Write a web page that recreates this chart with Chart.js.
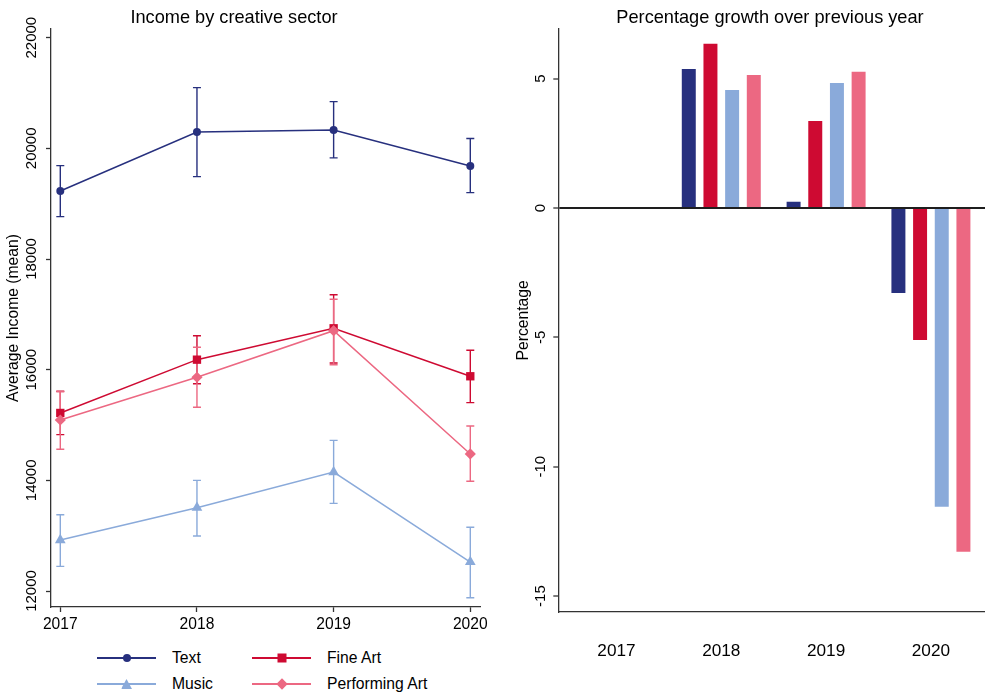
<!DOCTYPE html>
<html>
<head>
<meta charset="utf-8">
<script src="https://cdn.jsdelivr.net/npm/chart.js@4.4.1/dist/chart.umd.min.js"></script>
<style>
  body { margin: 0; background: #fff; font-family: "Liberation Sans", Arial, Helvetica, sans-serif; color: #000; }
  .stage { position: relative; width: 985px; height: 694px; overflow: hidden; }
  canvas { position: absolute; top: 0; }
  #incomeChart { left: 0; }
  #growthChart { left: 495px; }
  .panel-title { position: absolute; top: 6px; width: 400px; text-align: center; font-size: 18.2px; line-height: 22px; white-space: nowrap; }
  #legend { position: absolute; left: 97px; top: 645px; display: grid; grid-template-columns: 155px 155px; grid-auto-rows: 26px; font-size: 15.7px; }
  .legend-item { display: flex; align-items: center; white-space: nowrap; }
  .swatch { position: relative; width: 59px; height: 14px; margin-right: 16px; flex: none; }
  .swatch::before { content: ""; position: absolute; left: 0; right: 0; top: 6.25px; height: 1.5px; background: var(--c); }
  .marker { position: absolute; left: 50%; top: 50%; background: var(--c); transform: translate(-50%, -50%); }
  .marker.circle { width: 8px; height: 8px; border-radius: 50%; }
  .marker.rect { width: 9px; height: 9px; }
  .marker.triangle { width: 11px; height: 10px; clip-path: polygon(50% 0, 100% 100%, 0 100%); }
  .marker.rectRot { width: 8px; height: 8px; transform: translate(-50%, -50%) rotate(45deg); }
</style>
</head>
<body>
<div class="stage">
  <canvas id="incomeChart" width="495" height="640"></canvas>
  <canvas id="growthChart" width="490" height="694"></canvas>
  <div class="panel-title" style="left: 34px;">Income by creative sector</div>
  <div class="panel-title" style="left: 570px;">Percentage growth over previous year</div>
  <div id="legend"></div>
</div>

<script>
// Data
const years = [2017, 2018, 2019, 2020];
const sectors = ["Text", "Fine Art", "Music", "Performing Art"];
const sectorColors = ["#27307e", "#ce0a32", "#8aaada", "#ec6882"];
const sectorMarkers = ["circle", "rect", "triangle", "rectRot"];
const markerSizes = [4, 5.9, 6.2, 5.6];

const textMean = [19230, 20296, 20333, 19682];
const textLow = [18766, 19489, 19827, 19200];
const textHigh = [19687, 21097, 20844, 20177];

const fineArtMean = [15218, 16181, 16748, 15881];
const fineArtLow = [14826, 15747, 16120, 15404];
const fineArtHigh = [15610, 16614, 17355, 16350];

const musicMean = [12921, 13505, 14150, 12524];
const musicLow = [12446, 12994, 13584, 11879];
const musicHigh = [13379, 14000, 14723, 13151];

const perfArtMean = [15091, 15863, 16705, 14477];
const perfArtLow = [14562, 15321, 16090, 13984];
const perfArtHigh = [15600, 16405, 17272, 14983];

const growthText = [0, 5.37, 0.24, -3.29];
const growthFineArt = [0, 6.35, 3.36, -5.1];
const growthMusic = [0, 4.56, 4.83, -11.55];
const growthPerfArt = [0, 5.14, 5.27, -13.29];

const incomeTicks = [12000, 14000, 16000, 18000, 20000, 22000];
const growthTicks = [-15, -10, -5, 0, 5];

const means = [textMean, fineArtMean, musicMean, perfArtMean];
const lows = [textLow, fineArtLow, musicLow, perfArtLow];
const highs = [textHigh, fineArtHigh, musicHigh, perfArtHigh];
const growth = [growthText, growthFineArt, growthMusic, growthPerfArt];

Chart.defaults.font.family = '"Liberation Sans", Arial, Helvetica, sans-serif';
Chart.defaults.color = "#000";

const axisColor = "#333";

// Error bars (rcap style) drawn through the chart's own scales
const errorBarPlugin = {
  id: "errorBars",
  beforeDatasetsDraw(chart) {
    const { ctx, scales } = chart;
    chart.data.datasets.forEach((dataset) => {
      if (!dataset.errorLow) return;
      ctx.save();
      ctx.strokeStyle = dataset.borderColor;
      ctx.lineWidth = 1.4;
      dataset.data.forEach((point, i) => {
        const px = scales.x.getPixelForValue(point.x);
        const top = scales.y.getPixelForValue(dataset.errorHigh[i]);
        const bottom = scales.y.getPixelForValue(dataset.errorLow[i]);
        ctx.beginPath();
        ctx.moveTo(px, top);
        ctx.lineTo(px, bottom);
        ctx.moveTo(px - 4, top);
        ctx.lineTo(px + 4, top);
        ctx.moveTo(px - 4, bottom);
        ctx.lineTo(px + 4, bottom);
        ctx.stroke();
      });
      ctx.restore();
    });
  }
};

function yearTicks(axis) {
  axis.ticks = years.map((value) => ({ value }));
}

const incomeChart = new Chart(document.getElementById("incomeChart"), {
  type: "line",
  data: {
    datasets: sectors.map((name, s) => ({
      label: name,
      data: years.map((year, i) => ({ x: year, y: means[s][i] })),
      errorLow: lows[s],
      errorHigh: highs[s],
      borderColor: sectorColors[s],
      backgroundColor: sectorColors[s],
      borderWidth: 1.5,
      tension: 0,
      pointStyle: sectorMarkers[s],
      pointRadius: markerSizes[s],
      pointBorderWidth: 0,
      // later sectors sit on top, as in the original
      order: sectors.length - s
    }))
  },
  options: {
    responsive: false,
    animation: false,
    layout: { padding: { left: 0, top: 29, right: 15, bottom: 0 } },
    plugins: { legend: { display: false }, tooltip: { enabled: false } },
    scales: {
      x: {
        type: "linear",
        min: 2016.932,
        max: 2020.071,
        afterBuildTicks: yearTicks,
        afterFit: (axis) => { axis.height = 33; },
        ticks: { callback: (value) => String(value), font: { size: 15.6 }, padding: 3, autoSkip: false, maxRotation: 0 },
        grid: { drawOnChartArea: false, tickLength: 5, tickColor: axisColor, tickWidth: 1.3 },
        border: { color: axisColor, width: 1.3 }
      },
      y: {
        min: 11711,
        max: 22157,
        afterBuildTicks: (axis) => { axis.ticks = incomeTicks.map((value) => ({ value })); },
        afterFit: (axis) => { axis.width = 51; },
        ticks: {
          callback: (value) => String(value),
          font: { size: 15 },
          minRotation: 90,
          maxRotation: 90,
          crossAlign: "center",
          padding: -7.2,
          autoSkip: false
        },
        title: { display: true, text: "Average Income (mean)", font: { size: 15.7 }, padding: { top: 4.7, bottom: 0 } },
        grid: { drawOnChartArea: false, tickLength: 5, tickColor: axisColor, tickWidth: 1.3 },
        border: { color: axisColor, width: 1.3 }
      }
    }
  },
  plugins: [errorBarPlugin]
});

function renderLegend(chart) {
  document.getElementById("legend").innerHTML = chart.data.datasets
    .map(
      (dataset) => `
        <div class="legend-item">
          <span class="swatch" style="--c: ${dataset.borderColor}"><span class="marker ${dataset.pointStyle}"></span></span>
          <span>${dataset.label}</span>
        </div>
      `
    )
    .join("");
}

renderLegend(incomeChart);

new Chart(document.getElementById("growthChart"), {
  type: "bar",
  data: {
    datasets: sectors.map((name, s) => ({
      label: name,
      data: years.map((year, i) => ({ x: year, y: growth[s][i] })),
      backgroundColor: sectorColors[s],
      borderWidth: 0,
      categoryPercentage: 0.827,
      barPercentage: 0.645
    }))
  },
  options: {
    responsive: false,
    animation: false,
    layout: { padding: { left: 0, top: 29, right: 0, bottom: 0 } },
    plugins: { legend: { display: false }, tooltip: { enabled: false } },
    scales: {
      x: {
        type: "linear",
        offset: false,
        min: 2016.445,
        max: 2020.516,
        afterBuildTicks: yearTicks,
        afterFit: (axis) => { axis.height = 82.3; },
        ticks: { callback: (value) => String(value), font: { size: 17.2 }, padding: 29, autoSkip: false, maxRotation: 0 },
        grid: { display: false, drawTicks: false, offset: false },
        border: { color: axisColor, width: 1.3 }
      },
      y: {
        min: -15.605,
        max: 6.919,
        afterBuildTicks: (axis) => { axis.ticks = growthTicks.map((value) => ({ value })); },
        afterFit: (axis) => { axis.width = 63.3; },
        ticks: {
          callback: (value) => String(value),
          font: { size: 15 },
          minRotation: 90,
          maxRotation: 90,
          crossAlign: "center",
          padding: 2,
          autoSkip: false
        },
        title: { display: true, text: "Percentage", font: { size: 15.7 }, padding: { top: 19, bottom: 0 } },
        grid: {
          drawOnChartArea: true,
          color: (ctx) => (ctx.tick && ctx.tick.value === 0 ? "#1e1e1e" : "rgba(0,0,0,0)"),
          lineWidth: 2,
          tickLength: 5,
          tickColor: axisColor,
          tickWidth: 1.3
        },
        border: { color: axisColor, width: 1.3 }
      }
    }
  }
});
</script>
</body>
</html>
